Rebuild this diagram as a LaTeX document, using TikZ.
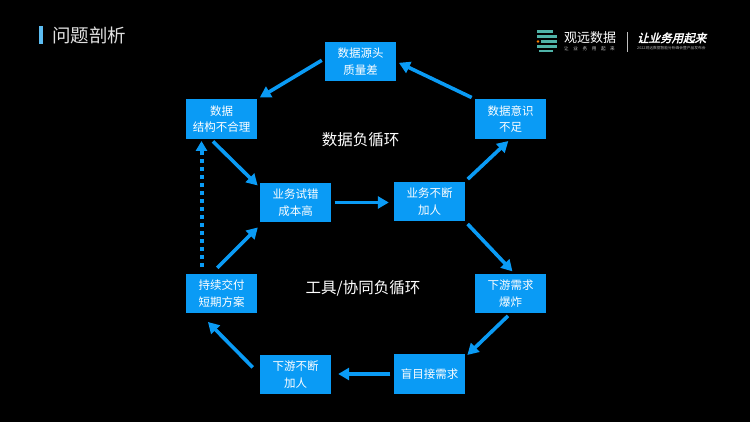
\documentclass[tikz,border=0pt]{standalone}
\usepackage{fontspec}
\setmainfont{Noto Sans CJK SC}
\newfontfamily\sloganfont[FakeSlant=0.25,FakeBold=2.5]{Noto Sans CJK SC}
\usetikzlibrary{arrows.meta}
\definecolor{boxblue}{HTML}{0A9BF5}
\definecolor{barblue}{HTML}{5CBDF2}
\definecolor{logoteal}{HTML}{4FB3A8}
\tikzset{
    stepbox/.style={fill=boxblue,text=white,minimum width=71pt,minimum height=39.5pt,
        inner sep=0pt,align=center,font=\fontsize{11.5}{16.7}\selectfont},
    flow/.style={boxblue,line width=3.6pt,-{Triangle[width=12pt,length=11pt]},shorten <=3.5pt,shorten >=3pt},
    retry/.style={boxblue,line width=4pt,dash pattern=on 4pt off 4pt,-{Triangle[width=11pt,length=10pt]},shorten <=7pt,shorten >=2pt},
    looplabel/.style={text=white,font=\fontsize{15.5}{18}\selectfont,inner sep=0pt},
    logobar/.style={logoteal,line width=2.8pt}
}
\begin{document}
\begin{tikzpicture}[x=1pt,y=-1pt]
\fill[black] (0,0) rectangle (750,422);
% title
\fill[barblue] (38.5,26) rectangle (42.5,44.5);
\node[anchor=west,inner sep=0pt,text=white!88!black,font=\fontsize{18.5}{20}\selectfont] (title) at (52,35.5) {问题剖析};
% logo
\draw[logobar] (537,31.5) -- (553,31.5);
\draw[logobar] (537,36.5) -- (557,36.5);
\draw[logobar] (541,41.5) -- (557,41.5);
\draw[logobar] (537,46.5) -- (557,46.5);
\draw[logobar] (539,51) -- (553,51);
\fill[orange] (538,41.5) circle (1.3);
\node[anchor=west,inner sep=0pt,text=white,font=\fontsize{13}{14}\selectfont] (brand) at (564,38) {观远数据};
\node[anchor=west,inner sep=0pt,text=white!80!black,font=\fontsize{4.6}{5}\selectfont] (brandsub) at (564,48.5) {让\hspace{4.6pt}业\hspace{4.6pt}务\hspace{4.6pt}用\hspace{4.6pt}起\hspace{4.6pt}来};
\draw[white!75!black,line width=.7pt] (627,32) -- (627,52);
\node[anchor=west,inner sep=0pt,text=white,font=\sloganfont\fontsize{11.5}{13}\selectfont] (slogan) at (637,38) {让业务用起来};
\node[anchor=west,inner sep=0pt,text=white!70!black,font=\fontsize{3.75}{4}\selectfont] (sloganSub) at (637,48.5) {2022观远数据智能分析峰会暨产品发布会};
% boxes
\node[stepbox] (source) at (360.5,61.5) {数据源头\\质量差};
\node[stepbox] (struct) at (221.5,119) {数据\\结构不合理};
\node[stepbox] (trial) at (295.5,202.5) {业务试错\\成本高};
\node[stepbox] (joinup) at (429.5,201.5) {业务不断\\加人};
\node[stepbox] (aware) at (510.5,119) {数据意识\\不足};
\node[stepbox] (demand) at (510.5,293.5) {下游需求\\爆炸};
\node[stepbox] (accept) at (429.5,374) {盲目接需求};
\node[stepbox] (joindown) at (295.5,374.5) {下游不断\\加人};
\node[stepbox] (deliver) at (221.5,293.5) {持续交付\\短期方案};
% loop names
\node[looplabel] (dataloop) at (360.5,140) {数据负循环};
\node[looplabel] (toolloop) at (363,288.5) {工具/协同负循环};
% arrows
\draw[flow] ([yshift=3pt]source.west) -- (struct.north east);
\draw[flow] (aware.north west) -- (source.east);
\draw[flow] (joinup.north east) -- (aware.south);
\draw[flow] (joinup.south east) -- ([xshift=4pt]demand.north);
\draw[flow] (demand.south) -- ([yshift=-3pt]accept.north east);
\draw[flow,shorten >=7pt] (accept.west) -- (accept.west -| joindown.east);
\draw[flow,shorten <=10pt,shorten >=12pt] (joindown.west) -- ([xshift=-22pt]deliver.south);
\draw[flow,shorten <=8pt,shorten >=7pt] ([xshift=-10pt]deliver.north) -- ([xshift=3pt]trial.south west);
\draw[flow] ([xshift=-11pt]struct.south) -- ([yshift=-5pt]trial.north west);
\draw[flow,shorten >=5pt] (trial.east) -- (trial.east -| joinup.west);
\draw[retry] ([xshift=-20pt]deliver.north) -- ([xshift=-20pt]struct.south);
\end{tikzpicture}
\end{document}
